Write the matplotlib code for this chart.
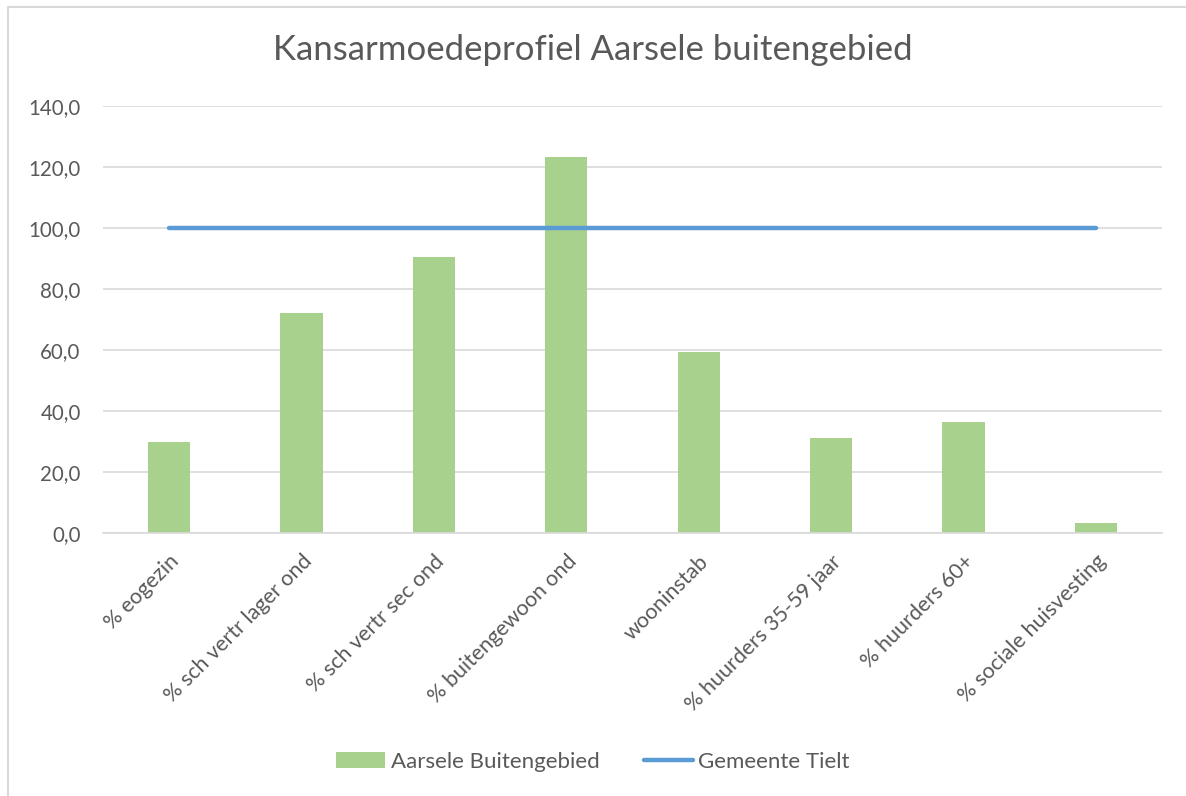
import matplotlib
matplotlib.use("Agg")
import matplotlib.pyplot as plt
from matplotlib.patches import Rectangle
from matplotlib.ticker import FuncFormatter

categories = ["% eogezin", "% sch vertr lager ond", "% sch vertr sec ond",
              "% buitengewoon ond", "wooninstab", "% huurders 35-59 jaar",
              "% huurders 60+", "% sociale huisvesting"]
aarsele = [29.8, 72.2, 90.4, 123.1, 59.3, 31.1, 36.5, 3.3]
tielt = [100.0, 100.0, 100.0, 100.0, 100.0, 100.0, 100.0, 100.0]

plt.rcParams['font.family'] = ['Lato', 'DejaVu Sans']
grey = "#595959"

fig = plt.figure(figsize=(11.86, 7.96), dpi=100)
ax = fig.add_axes([0.0868, 0.33, 0.893, 0.537])

x = range(len(categories))
bars = ax.bar(x, aarsele, width=0.32, color="#A9D18E", label="Aarsele Buitengebied", zorder=2)
line, = ax.plot(x, tielt, color="#5B9BD5", linewidth=3.2, solid_capstyle="round",
                label="Gemeente Tielt", zorder=3)

ax.set_xlim(-0.5, len(categories) - 0.5)
ax.set_ylim(0, 140)
ax.set_yticks(range(0, 141, 20))
ax.yaxis.set_major_formatter(FuncFormatter(lambda v, p: f"{v:.1f}".replace(".", ",")))
ax.grid(axis="y", color="#D9D9D9", linewidth=1.2, zorder=0)
ax.set_axisbelow(True)
for s in ["top", "right", "left"]:
    ax.spines[s].set_visible(False)
ax.spines["bottom"].set_color("#D9D9D9")
ax.spines["bottom"].set_linewidth(1.2)
ax.tick_params(axis="both", length=0, colors=grey, labelsize=15.5)
ax.tick_params(axis="y", pad=16, labelsize=14.8)

ax.set_xticks(list(x))
ax.set_xticklabels(categories, rotation=45, ha="right", rotation_mode="anchor")
ax.tick_params(axis="x", pad=13)

fig.text(0.5, 0.937, "Kansarmoedeprofiel Aarsele buitengebied", ha="center",
         va="center", fontsize=25, color=grey)

fig.legend([bars, line], ["Aarsele Buitengebied", "Gemeente Tielt"],
           loc="center", bbox_to_anchor=(0.5, 0.043), ncol=2, frameon=False,
           fontsize=16, labelcolor=grey, handlelength=2.2, handletextpad=0.25,
           columnspacing=2.0)

fig.patches.append(Rectangle((8 / 1186, -0.1), 1.2, 1.1 - 7 / 796,
                             transform=fig.transFigure, fill=False,
                             edgecolor="#D9D9D9", linewidth=1.5))

fig.savefig("out.png", dpi=100)
